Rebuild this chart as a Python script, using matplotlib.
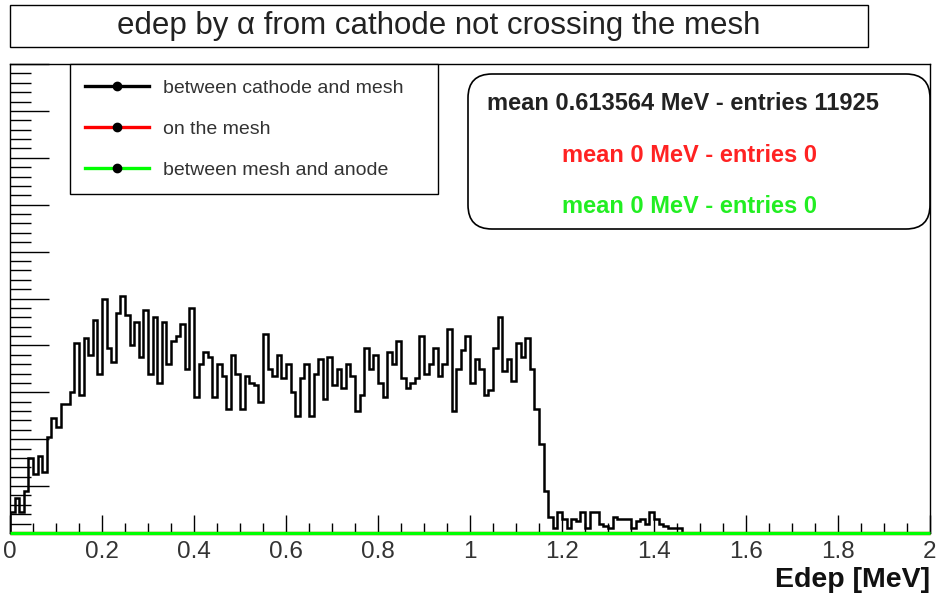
import matplotlib
matplotlib.use('Agg')
import matplotlib.pyplot as plt
import numpy as np
from matplotlib.lines import Line2D
from matplotlib.patches import FancyBboxPatch, Rectangle
from matplotlib.ticker import MultipleLocator, FuncFormatter
from matplotlib.transforms import IdentityTransform

plt.rcParams['font.family'] = ['Liberation Sans', 'DejaVu Sans']

# ---------------- data ----------------
x_range = (0.0, 2.0)
n_bins = 200

# energy deposit histogram, region between cathode and mesh (bins of 0.01 MeV)
counts_cathode_mesh = [
    9, 15, 9, 18, 32, 25, 33, 26, 41, 49,
    45, 55, 55, 60, 81, 59, 83, 76, 91, 68,
    100, 79, 73, 94, 101, 93, 80, 90, 75, 95,
    68, 92, 64, 90, 72, 82, 84, 89, 70, 96,
    58, 72, 77, 75, 58, 72, 67, 53, 76, 68,
    53, 67, 64, 63, 56, 85, 70, 67, 76, 66,
    72, 60, 50, 66, 72, 50, 68, 74, 57, 75,
    63, 70, 62, 72, 67, 52, 59, 79, 70, 76,
    64, 58, 77, 72, 82, 66, 62, 64, 66, 84,
    68, 72, 79, 67, 72, 87, 52, 70, 78, 84,
    64, 74, 70, 59, 61, 79, 92, 69, 74, 65,
    81, 75, 83, 70, 53, 38, 18, 7, 2, 9,
    6, 2, 6, 5, 9, 2, 9, 9, 4, 3,
    2, 7, 6, 6, 6, 2, 5, 6, 4, 9,
    6, 4, 3, 2, 2, 2,
] + [0] * 54
counts_on_mesh = [0] * n_bins
counts_mesh_anode = [0] * n_bins

series_labels = ["between cathode and mesh", "on the mesh", "between mesh and anode"]
series_colors = ["#000000", "#ff0000", "#00ff00"]
stats_text = ["mean 0.613564 MeV - entries 11925",
              "mean 0 MeV - entries 0",
              "mean 0 MeV - entries 0"]
title_text = "edep by α from cathode not crossing the mesh"
xlabel_text = "Edep [MeV]"

# ---------------- figure ----------------
W, H = 939, 599
fig = plt.figure(figsize=(W / 100, H / 100), dpi=100)
ax = fig.add_axes([10 / W, (H - 533) / H, 920 / W, 469 / H])

edges = np.linspace(x_range[0], x_range[1], n_bins + 1)
ax.stairs(counts_cathode_mesh, edges, color=series_colors[0], lw=1.8, baseline=0)
ax.stairs(counts_on_mesh, edges, color=series_colors[1], lw=2.4, clip_on=False)
ax.stairs(counts_mesh_anode, edges, color=series_colors[2], lw=2.4, clip_on=False, zorder=3)

ax.set_xlim(*x_range)
ax.set_ylim(0, 200)
ax.xaxis.set_major_locator(MultipleLocator(0.2))
ax.xaxis.set_minor_locator(MultipleLocator(0.05))
ax.yaxis.set_major_locator(MultipleLocator(20))
ax.yaxis.set_minor_locator(MultipleLocator(4))
ax.xaxis.set_major_formatter(FuncFormatter(lambda v, p: "%g" % round(v, 2)))
ax.tick_params(axis='both', which='both', direction='in', top=False, right=False,
               labelleft=False, width=1.0, color='black')
ax.tick_params(axis='x', which='major', length=13, labelsize=17.5, pad=6)
ax.tick_params(axis='x', which='minor', length=7)
ax.tick_params(axis='y', which='major', length=28)
ax.tick_params(axis='y', which='minor', length=15)
for lab in ax.get_xticklabels():
    lab.set_color('#333333')
for s in ax.spines.values():
    s.set_linewidth(1.0)

fig.text(930 / W, 1 - 580 / H, xlabel_text, ha='right', va='center',
         fontsize=20.5, fontweight='bold', color='#111111')

# title box
fig.add_artist(Rectangle((10, H - 47), 858, 42, transform=IdentityTransform(),
                         facecolor='white', edgecolor='black', lw=1.0))
fig.text(439 / W, 1 - 26 / H, title_text, ha='center', va='center', fontsize=22.5,
         color='#222222')

# legend
handles = [Line2D([], [], color=c, lw=2.4, marker='o', markersize=6,
                  markerfacecolor='black', markeredgecolor='black')
           for c in series_colors]
leg = fig.legend(handles, series_labels, loc='upper left',
                 bbox_to_anchor=(70 / W, 1 - 189 / H, 368 / W, 125 / H),
                 bbox_transform=fig.transFigure, mode='expand',
                 fancybox=False, framealpha=1, edgecolor='black', fontsize=14,
                 handlelength=3.3, handletextpad=0.7, labelspacing=1.2,
                 borderpad=0.78, borderaxespad=0)
leg.get_frame().set_linewidth(1.0)
for t in leg.get_texts():
    t.set_color('#333333')

# stats box
fig.add_artist(FancyBboxPatch((468, H - 229), 462, 155,
                              boxstyle='round,pad=0,rounding_size=24',
                              transform=IdentityTransform(), facecolor='white',
                              edgecolor='black', lw=1.2))
for txt, col, yy, xx in zip(stats_text, ['#222222', '#ff2222', '#22ee22'],
                            [103, 155, 207], [683, 689, 689]):
    fig.text(xx / W, 1 - yy / H, txt, ha='center', va='center', fontsize=17,
             fontweight='bold', color=col)

fig.savefig('out.png', dpi=100)
